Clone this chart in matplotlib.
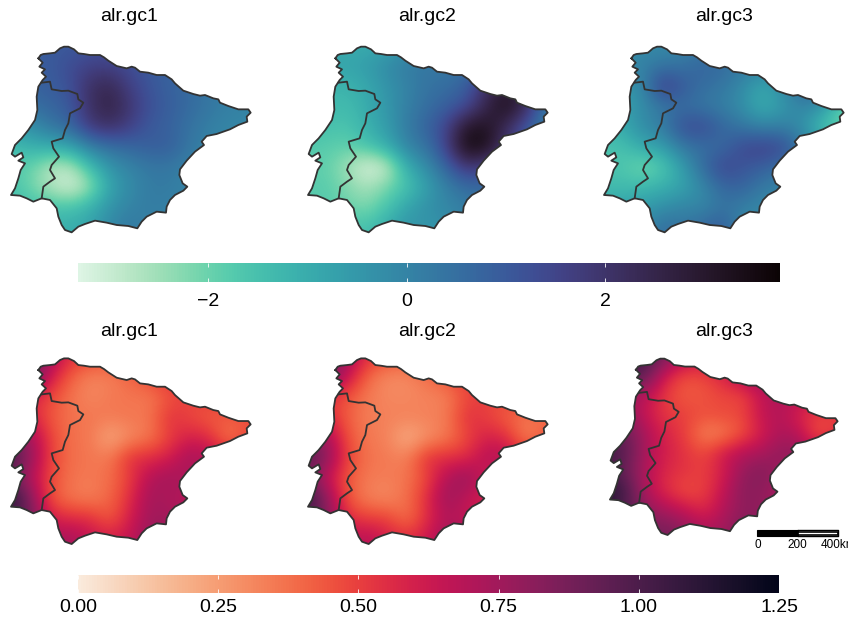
#!/usr/bin/env python3
"""Iberian peninsula maps: alr.gc means (top row) and their uncertainty (bottom row)."""

import numpy as np
import matplotlib.pyplot as plt
import seaborn as sns
from matplotlib.cm import ScalarMappable
from matplotlib.colors import Normalize
from matplotlib.patches import PathPatch, Rectangle
from matplotlib.path import Path

plt.rcParams["font.family"] = ["Liberation Sans", "DejaVu Sans"]

W, H = 848, 619

# outline of the peninsula and the Spain/Portugal border, map units
coast_x = [115, 122, 130, 150, 165, 172, 180, 192, 205, 222, 235, 252, 270, 300, 312, 325, 350, 380, 395, 405, 420, 445, 470, 495, 515, 525, 550,
           580, 600, 615, 640, 655, 660, 685, 715, 745, 752, 740, 742, 715, 690, 650, 620, 605, 612, 585, 560, 540, 538,
           548, 562, 550, 525, 510, 500, 498, 470, 440, 425, 412, 385, 350, 320, 285, 255, 235, 215, 195, 185,
           175, 170, 150, 125, 100, 80, 60, 33, 45, 55, 62, 75, 55, 70, 65, 45, 35, 45, 65, 85, 105,
           112, 110, 115, 128, 138, 125, 135, 118, 128, 115]
coast_y = [85, 75, 72, 70, 68, 62, 55, 50, 50, 58, 70, 72, 75, 75, 82, 92, 108, 115, 110, 113, 125, 128, 135, 135, 148, 160, 182,
           192, 197, 195, 205, 208, 218, 228, 238, 238, 248, 260, 275, 285, 298, 312, 318, 335, 345, 365, 392, 418, 435,
           460, 470, 482, 495, 510, 530, 548, 545, 560, 575, 595, 588, 585, 578, 572, 582, 590, 607, 600, 585,
           560, 535, 510, 505, 515, 505, 497, 495, 475, 445, 420, 400, 392, 382, 368, 380, 372, 345, 325, 300, 270,
           240, 200, 170, 150, 140, 128, 118, 110, 98, 85]
border_x = [125, 150, 155, 185, 205, 232, 235, 250, 240, 210, 205, 195, 188, 155, 160, 177, 155, 150, 165, 150, 130, 125]
border_y = [158, 155, 178, 183, 182, 192, 208, 218, 235, 250, 280, 300, 325, 335, 355, 380, 405, 420, 445, 455, 470, 505]

# rows run north to south, columns west to east
grid_x = [30, 90, 150, 210, 270, 330, 390, 450, 510, 570, 630, 690, 750]
grid_y = [50, 110, 170, 230, 290, 350, 410, 470, 530, 590]

gc1_mean = [
    [0.8, 0.9, 1.0, 1.0, 1.1, 1.2, 1.1, 0.9, 0.8, 0.6, 0.4, 0.2, 0.1],
    [0.6, 0.8, 1.0, 1.3, 1.6, 1.6, 1.3, 1.0, 0.8, 0.7, 0.4, 0.2, 0.1],
    [0.5, 0.8, 0.9, 1.2, 2.1, 2.4, 1.6, 1.1, 0.8, 0.6, 0.3, 0.1, 0.0],
    [0.3, 0.5, 0.7, 1.0, 2.1, 2.6, 1.9, 1.2, 0.9, 0.6, 0.3, 0.1, 0.0],
    [-0.6, -0.3, 0.3, 0.7, 1.8, 2.1, 1.6, 1.0, 0.8, 0.4, 0.1, -0.1, -0.1],
    [-1.4, -1.1, -1.0, -0.8, 0.1, 0.5, 0.7, 0.9, 0.9, 0.3, 0.0, -0.1, -0.1],
    [-1.8, -1.9, -2.7, -2.8, -1.4, -0.4, 0.0, 0.3, 0.3, 0.0, 0.0, 0.0, 0.0],
    [-1.5, -2.0, -2.7, -3.2, -2.5, -0.8, -0.2, 0.2, 0.2, 0.0, 0.0, 0.0, 0.0],
    [-1.4, -1.5, -1.5, -1.6, -1.1, -0.4, 0.0, 0.2, 0.1, 0.0, 0.0, 0.0, 0.0],
    [-1.3, -1.3, -1.2, -1.0, -0.8, -0.1, 0.3, 0.0, 0.0, 0.0, 0.0, 0.0, 0.0],
]
gc2_mean = [
    [-0.9, -0.9, -1.0, -1.0, -0.8, -0.4, 0.0, 0.2, 0.3, 0.5, 0.8, 0.5, 0.1],
    [-0.8, -0.8, -0.8, -0.6, -0.2, 0.2, 0.3, 0.3, 0.4, 0.8, 1.5, 1.0, 0.2],
    [-1.2, -1.2, -1.2, -0.9, -0.4, 0.0, 0.4, 0.5, 0.9, 2.2, 2.9, 2.2, 0.5],
    [-1.3, -1.3, -1.4, -1.0, -0.5, 0.1, 0.5, 0.9, 1.3, 2.5, 3.4, 2.2, 0.2],
    [-1.5, -1.5, -1.6, -1.1, -0.6, 0.2, 0.8, 1.5, 3.1, 3.2, 2.2, 1.0, 0.0],
    [-1.7, -1.8, -1.9, -1.6, -1.0, 0.0, 0.4, 1.6, 3.6, 3.3, 1.8, 0.8, 0.0],
    [-1.9, -1.9, -2.5, -3.3, -3.0, -1.0, -0.2, 0.8, 1.9, 1.5, 1.0, 0.5, 0.0],
    [-1.8, -1.8, -2.2, -2.6, -2.1, -1.6, -0.7, 0.1, 0.6, 0.6, 0.4, 0.2, 0.0],
    [-1.7, -1.8, -2.0, -2.2, -1.6, -0.8, -0.3, -0.1, 0.2, 0.3, 0.2, 0.1, 0.0],
    [-1.5, -1.5, -1.5, -1.5, -1.0, -0.4, -0.5, -0.3, 0.0, 0.1, 0.1, 0.0, 0.0],
]
gc3_mean = [
    [-0.2, -0.2, -0.2, -0.2, 0.0, 0.2, 0.2, 0.1, 0.0, 0.0, 0.2, 0.2, -0.5],
    [-0.2, -0.2, 0.1, 0.4, 0.4, 0.8, 0.6, 0.3, 0.1, 0.0, 0.4, 0.3, -0.5],
    [-0.4, -0.5, -0.1, 1.8, 1.0, 0.5, 0.3, -0.2, -0.9, -0.2, 0.8, 0.8, -0.8],
    [-0.8, -0.8, -0.2, 0.3, 0.5, 0.3, 0.1, -0.3, -1.1, -0.5, 0.0, -0.4, -2.0],
    [-1.2, -0.9, -0.2, 0.2, 1.3, 1.4, 0.7, 0.3, 0.0, 0.1, -0.3, -1.6, -2.0],
    [-1.6, -1.5, -0.9, -0.6, 0.3, 0.5, 0.6, 1.4, 1.6, 1.4, 0.2, -0.5, -1.0],
    [-1.6, -1.6, -2.2, -1.7, -0.6, 0.6, 1.5, 1.1, 0.9, 0.5, 0.2, 0.0, 0.0],
    [-1.4, -1.4, -1.3, -1.1, -0.8, -0.1, 0.7, 0.8, 0.2, 0.0, 0.0, 0.0, 0.0],
    [-0.8, -0.7, -0.6, -0.3, 0.0, -0.1, 0.4, 0.1, -0.1, -0.1, 0.0, 0.0, 0.0],
    [-0.5, -0.5, -0.2, 0.6, 0.3, 0.7, 1.0, -0.2, -0.2, -0.1, 0.0, 0.0, 0.0],
]
gc1_sd = [
    [1.00, 0.95, 0.75, 0.55, 0.50, 0.48, 0.50, 0.50, 0.55, 0.55, 0.55, 0.55, 0.55],
    [0.90, 0.95, 0.62, 0.42, 0.32, 0.33, 0.40, 0.48, 0.55, 0.55, 0.55, 0.55, 0.55],
    [0.60, 0.58, 0.48, 0.37, 0.31, 0.35, 0.36, 0.35, 0.45, 0.50, 0.50, 0.55, 0.55],
    [0.60, 0.60, 0.44, 0.37, 0.36, 0.35, 0.36, 0.36, 0.55, 0.48, 0.43, 0.43, 0.45],
    [0.85, 0.75, 0.50, 0.37, 0.36, 0.20, 0.30, 0.36, 0.50, 0.60, 0.55, 0.34, 0.50],
    [1.05, 0.80, 0.50, 0.38, 0.36, 0.35, 0.55, 0.55, 0.60, 0.75, 0.70, 0.60, 0.60],
    [0.90, 0.70, 0.48, 0.37, 0.35, 0.38, 0.50, 0.70, 0.75, 0.70, 0.60, 0.60, 0.60],
    [1.15, 0.85, 0.45, 0.36, 0.33, 0.40, 0.55, 0.75, 0.70, 0.70, 0.60, 0.60, 0.60],
    [1.00, 0.90, 0.60, 0.55, 0.55, 0.42, 0.60, 0.75, 0.75, 0.70, 0.60, 0.60, 0.60],
    [0.90, 0.80, 0.70, 0.75, 0.65, 0.60, 0.65, 0.80, 0.75, 0.70, 0.60, 0.60, 0.60],
]
gc2_sd = [
    [0.95, 0.90, 0.75, 0.55, 0.48, 0.46, 0.48, 0.48, 0.52, 0.52, 0.52, 0.52, 0.52],
    [0.85, 0.90, 0.65, 0.40, 0.30, 0.30, 0.38, 0.45, 0.52, 0.52, 0.52, 0.52, 0.52],
    [0.55, 0.52, 0.45, 0.35, 0.31, 0.31, 0.32, 0.33, 0.48, 0.50, 0.48, 0.50, 0.50],
    [0.55, 0.58, 0.42, 0.34, 0.33, 0.33, 0.33, 0.35, 0.55, 0.50, 0.42, 0.36, 0.38],
    [0.80, 0.75, 0.46, 0.35, 0.33, 0.18, 0.28, 0.35, 0.48, 0.60, 0.55, 0.32, 0.45],
    [1.00, 0.82, 0.50, 0.37, 0.35, 0.33, 0.55, 0.55, 0.55, 0.70, 0.70, 0.55, 0.55],
    [0.85, 0.65, 0.44, 0.35, 0.34, 0.36, 0.48, 0.70, 0.80, 0.60, 0.55, 0.55, 0.55],
    [1.10, 0.80, 0.45, 0.33, 0.30, 0.38, 0.55, 0.78, 0.65, 0.60, 0.55, 0.55, 0.55],
    [0.95, 0.85, 0.55, 0.50, 0.50, 0.36, 0.55, 0.70, 0.65, 0.60, 0.55, 0.55, 0.55],
    [0.85, 0.75, 0.65, 0.70, 0.60, 0.55, 0.62, 0.78, 0.70, 0.65, 0.55, 0.55, 0.55],
]
gc3_sd = [
    [1.05, 1.05, 1.00, 0.85, 0.70, 0.65, 0.65, 0.70, 0.75, 0.70, 0.65, 0.65, 0.65],
    [1.00, 1.00, 0.90, 0.58, 0.46, 0.48, 0.58, 0.72, 0.78, 0.70, 0.65, 0.65, 0.65],
    [0.80, 0.75, 0.66, 0.50, 0.43, 0.45, 0.48, 0.48, 0.65, 0.72, 0.68, 0.65, 0.65],
    [0.80, 0.78, 0.62, 0.52, 0.50, 0.46, 0.48, 0.48, 0.65, 0.70, 0.58, 0.50, 0.50],
    [0.95, 0.90, 0.70, 0.58, 0.50, 0.32, 0.34, 0.46, 0.60, 0.72, 0.68, 0.44, 0.55],
    [1.05, 0.92, 0.70, 0.60, 0.53, 0.48, 0.62, 0.70, 0.72, 0.80, 0.80, 0.70, 0.70],
    [1.00, 0.88, 0.68, 0.56, 0.53, 0.50, 0.60, 0.78, 0.85, 0.75, 0.70, 0.70, 0.70],
    [1.15, 0.98, 0.68, 0.55, 0.46, 0.50, 0.65, 0.82, 0.80, 0.72, 0.70, 0.70, 0.70],
    [1.05, 0.95, 0.80, 0.72, 0.65, 0.56, 0.70, 0.80, 0.80, 0.75, 0.70, 0.70, 0.70],
    [1.00, 0.95, 0.85, 0.88, 0.80, 0.72, 0.75, 0.85, 0.80, 0.75, 0.70, 0.70, 0.70],
]

panel_titles = ["alr.gc1", "alr.gc2", "alr.gc3"]
mean_ticks = [-2, 0, 2]
sd_ticks = [0.00, 0.25, 0.50, 0.75, 1.00, 1.25]
sd_labels = ["0.00", "0.25", "0.50", "0.75", "1.00", "1.25"]


def px_axes(fig, left, top, width, height):
    """Axes placed with pixel coordinates measured from the top left."""
    return fig.add_axes([left / W, 1 - (top + height) / H, width / W, height / H])


def draw_map(fig, values, cmap, norm, left, top, scale=1.0):
    ax = px_axes(fig, left, top, 780 / 3 * scale, 640 / 3 * scale)
    im = ax.imshow(
        np.array(values),
        extent=[grid_x[0] - 30, grid_x[-1] + 30, grid_y[-1] + 30, grid_y[0] - 30],
        cmap=cmap,
        norm=norm,
        interpolation="bicubic",
        aspect="auto",
    )
    land = PathPatch(Path(np.column_stack([coast_x, coast_y])), transform=ax.transData, fc="none", ec="none")
    ax.add_patch(land)
    im.set_clip_path(land)
    ax.plot(coast_x, coast_y, color="#333333", lw=1.3, solid_joinstyle="round")
    ax.plot(border_x, border_y, color="#333333", lw=1.3, solid_joinstyle="round")
    ax.set_xlim(0, 780)
    ax.set_ylim(640, 0)
    ax.axis("off")
    return ax


def draw_colorbar(fig, cmap, norm, ticks, labels, left, top, width, height, pad):
    cax = px_axes(fig, left, top, width, height)
    cb = fig.colorbar(ScalarMappable(norm=norm, cmap=cmap), cax=cax, orientation="horizontal")
    cb.outline.set_visible(False)
    cb.set_ticks(ticks, labels=labels)
    cax.tick_params(axis="x", length=0, pad=pad, labelsize=14, labelcolor="black")
    cax.vlines(ticks, 0, 0.2, color="white", lw=0.6)
    cax.vlines(ticks, 0.8, 1, color="white", lw=0.6)


def main():
    fig = plt.figure(figsize=(W / 100, H / 100), dpi=100)

    mean_cmap = sns.color_palette("mako_r", as_cmap=True)
    sd_cmap = sns.color_palette("rocket_r", as_cmap=True)
    mean_norm = Normalize(-3.31, 3.76)
    sd_norm = Normalize(0.0, 1.25)

    mean_grids = [gc1_mean, gc2_mean, gc3_mean]
    sd_grids = [gc1_sd, gc2_sd, gc3_sd]
    lefts = [0, 297, 593]
    title_x = [129, 427, 724]

    for values, left, tx, title in zip(mean_grids, lefts, title_x, panel_titles):
        draw_map(fig, values, mean_cmap, mean_norm, left, 30)
        fig.text(tx / W, 1 - 16.5 / H, title, ha="center", va="center", fontsize=14)

    draw_map(fig, sd_grids[0], sd_cmap, sd_norm, 0, 341.7)
    draw_map(fig, sd_grids[1], sd_cmap, sd_norm, 297, 341.7)
    draw_map(fig, sd_grids[2], sd_cmap, sd_norm, 599.5, 342.8, scale=0.95)
    for tx, title in zip(title_x, panel_titles):
        fig.text(tx / W, 1 - 331.5 / H, title, ha="center", va="center", fontsize=14)

    draw_colorbar(fig, mean_cmap, mean_norm, mean_ticks, ["\u22122", "0", "2"], 78, 263, 702, 19, 8)
    draw_colorbar(fig, sd_cmap, sd_norm, sd_ticks, sd_labels, 78, 575, 701, 18, 4)

    # scale bar, in figure pixels
    overlay = fig.add_axes([0, 0, 1, 1], facecolor="none")
    overlay.set_xlim(0, W)
    overlay.set_ylim(H, 0)
    overlay.axis("off")
    overlay.add_patch(Rectangle((757, 530), 41, 6, fc="black", ec="black", lw=0.8))
    overlay.add_patch(Rectangle((798, 532), 40, 3, fc="white", ec="black", lw=1.2))
    overlay.plot([798, 838, 838, 798], [530, 530, 536, 536], color="black", lw=1.0)
    for x, label, ha in [(758, "0", "center"), (797, "200", "center"), (821, "400km", "left")]:
        overlay.text(x, 545.5, label, ha=ha, va="center", fontsize=8.5, clip_on=False)

    fig.savefig("out.png", dpi=100)
    plt.close(fig)


if __name__ == "__main__":
    main()
